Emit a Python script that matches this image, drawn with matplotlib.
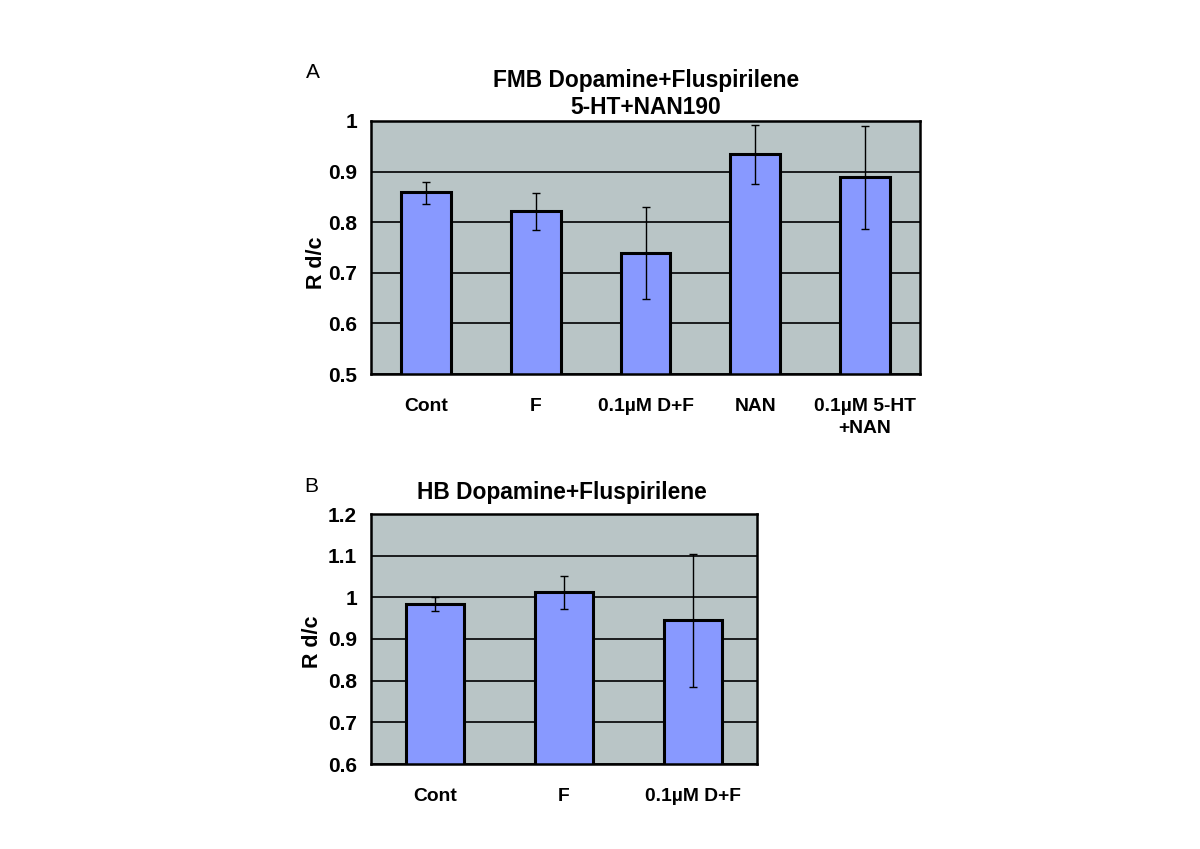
import matplotlib
matplotlib.use('Agg')
import matplotlib.pyplot as plt
import numpy as np

plt.rcParams['font.family'] = ['Liberation Sans', 'DejaVu Sans']

# Panell A
cats_a = ['Cont', 'F', '0.1\u00b5M D+F', 'NAN', '0.1\u00b5M 5-HT\n+NAN']
vals_a = [0.860, 0.822, 0.740, 0.935, 0.890]
err_lo_a = [0.025, 0.037, 0.092, 0.059, 0.103]
err_hi_a = [0.020, 0.036, 0.090, 0.057, 0.100]

# Panell B
cats_b = ['Cont', 'F', '0.1\u00b5M D+F']
vals_b = [0.985, 1.012, 0.945]
err_lo_b = [0.018, 0.039, 0.160]
err_hi_b = [0.015, 0.039, 0.160]

W, H = 1200, 849
fig = plt.figure(figsize=(12, 8.49), dpi=100)

bg = '#b9c5c6'
bar_col = '#8899ff'


def panell(rect, cats, vals, lo, hi, ylim, yticks, ylabels, width, ylab_xy):
    l, t, r, b = rect
    ax = fig.add_axes([l / W, 1 - b / H, (r - l) / W, (b - t) / H])
    ax.set_facecolor(bg)
    x = np.arange(len(cats))
    ax.set_axisbelow(True)
    ax.yaxis.grid(True, color='black', linewidth=1.2)
    ax.bar(x, vals, width=width, color=bar_col, edgecolor='black', linewidth=2.2, zorder=2)
    ax.errorbar(x, vals, yerr=[lo, hi], fmt='none', ecolor='black', elinewidth=1,
                capsize=3, capthick=1, zorder=3)
    ax.set_xlim(-0.5, len(cats) - 0.5)
    ax.set_ylim(*ylim)
    ax.set_yticks(yticks)
    ax.set_yticklabels(ylabels, fontsize=15, fontweight='bold')
    ax.set_xticks(x)
    ax.set_xticklabels(cats, fontsize=13.9, fontweight='bold', linespacing=1.38)
    ax.tick_params(axis='both', length=0)
    ax.tick_params(axis='x', pad=17)
    ax.tick_params(axis='y', pad=10)
    for s in ax.spines.values():
        s.set_linewidth(1.8)
        s.set_color('black')
    ax.set_ylabel('R d/c', fontsize=15.5, fontweight='bold', va='center')
    # posicio de l'etiqueta Y en pixels de la figura
    px, py = ylab_xy
    ax.yaxis.set_label_coords((px - l) / (r - l), (b - py) / (b - t))
    return ax


ax_a = panell((371, 121, 920, 374), cats_a, vals_a, err_lo_a, err_hi_a,
              (0.5, 1.0), [0.5, 0.6, 0.7, 0.8, 0.9, 1.0],
              ['0.5', '0.6', '0.7', '0.8', '0.9', '1'], 0.455, (317, 263))
ax_b = panell((371, 514, 757, 764), cats_b, vals_b, err_lo_b, err_hi_b,
              (0.6, 1.2), [0.6, 0.7, 0.8, 0.9, 1.0, 1.1, 1.2],
              ['0.6', '0.7', '0.8', '0.9', '1', '1.1', '1.2'], 0.45, (313, 642))

fig.text(646 / W, 1 - 94 / H, 'FMB Dopamine+Fluspirilene\n5-HT+NAN190', ha='center', va='center',
         fontsize=16.4, fontweight='bold', linespacing=1.27)
fig.text(562 / W, 1 - 493 / H, 'HB Dopamine+Fluspirilene', ha='center', va='center',
         fontsize=16.4, fontweight='bold')
fig.text(313 / W, 1 - 73 / H, 'A', ha='center', va='center', fontsize=15)
fig.text(311 / W, 1 - 487 / H, 'B', ha='center', va='center', fontsize=15)

fig.savefig('out.png', dpi=100)
